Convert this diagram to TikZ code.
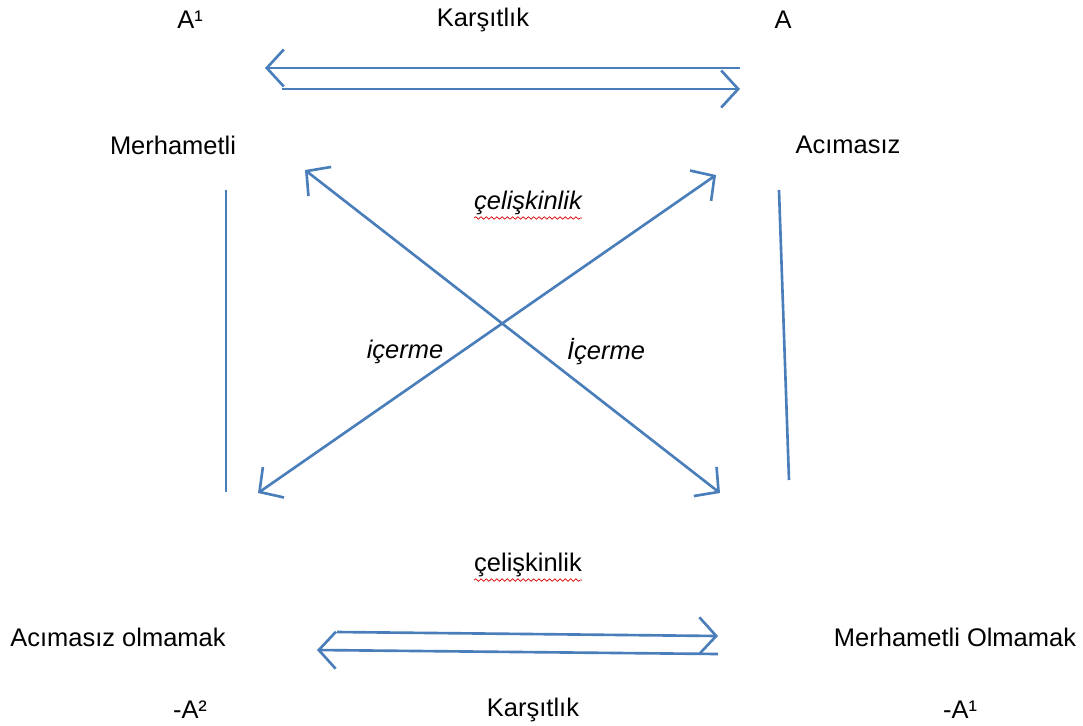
\documentclass[tikz,border=0pt]{standalone}
\usepackage{fontspec}
\setmainfont{Liberation Sans}
\usetikzlibrary{arrows.meta, decorations.pathmorphing}
\definecolor{lineblue}{HTML}{4A7EBB}

\begin{document}
\begin{tikzpicture}[
  x=0.02cm, y=-0.02cm, font=\fontsize{14.5}{17}\selectfont,
  lbl/.style={inner sep=1pt},
  rel/.style={inner sep=1pt, font=\fontsize{14.5}{17}\selectfont\itshape},
  ln/.style={draw=lineblue, line width=1.5pt},
  arr/.style={ln, -{Straight Barb[length=3.4mm, width=7.4mm, line width=1.5pt]}},
  darr/.style={ln, {Straight Barb[length=3.4mm, width=7.4mm, line width=1.5pt]}-{Straight Barb[length=3.4mm, width=7.4mm, line width=1.5pt]}},
  spell/.style={draw=red!85!black, line width=0.4pt,
                decorate, decoration={snake, amplitude=0.7pt, segment length=3pt}}]
\useasboundingbox (0,0) rectangle (1083,725);
% labels
\node[lbl] (a1) at (190,20) {A¹};
\node[lbl] (kar1) at (483,20) {Karşıtlık};
\node[lbl] (a) at (783,20) {A};
\node[lbl] (merh) at (173,145) {Merhametli};
\node[lbl] (acim) at (848,145) {Acımasız};
\node[rel] (cel1) at (528,203) {çelişkinlik};
\node[rel] (ic1) at (405,352) {içerme};
\node[rel] (ic2) at (606,352) {İçerme};
\node[lbl] (cel2) at (528,565) {çelişkinlik};
\node[lbl] (acol) at (118,637) {Acımasız olmamak};
\node[lbl] (merol) at (955,637) {Merhametli Olmamak};
\node[lbl] (na2) at (190,710) {-A²};
\node[lbl] (kar2) at (533,710) {Karşıtlık};
\node[lbl] (na1) at (960,710) {-A¹};
% arrow ends
\coordinate (t1a) at (740,68);  \coordinate (t1b) at (265,68);
\coordinate (t2a) at (282,89);  \coordinate (t2b) at (740,89);
\coordinate (b1a) at (337,632); \coordinate (b1b) at (718,636);
\coordinate (b2a) at (718,654); \coordinate (b2b) at (317,650);
\coordinate (lv1) at (226,190); \coordinate (lv2) at (226,492);
\coordinate (rv1) at (779,190); \coordinate (rv2) at (789,480);
\coordinate (dga) at (305,170); \coordinate (dgb) at (720,493);
\coordinate (dgc) at (716,175); \coordinate (dgd) at (258,493);
% connectors
\draw[arr] (t1a) -- (t1b);
\draw[arr] (t2a) -- (t2b);
\draw[arr] (b1a) -- (b1b);
\draw[arr] (b2a) -- (b2b);
\draw[ln] (lv1) -- (lv2);
\draw[ln] (rv1) -- (rv2);
\draw[darr] (dga) -- (dgb);
\draw[darr] (dgc) -- (dgd);
% spell marks
\draw[spell] (cel1.south west) ++(2,1) -- ([shift={(-2,1)}]cel1.south east);
\draw[spell] (cel2.south west) ++(2,1) -- ([shift={(-2,1)}]cel2.south east);
\end{tikzpicture}
\end{document}
